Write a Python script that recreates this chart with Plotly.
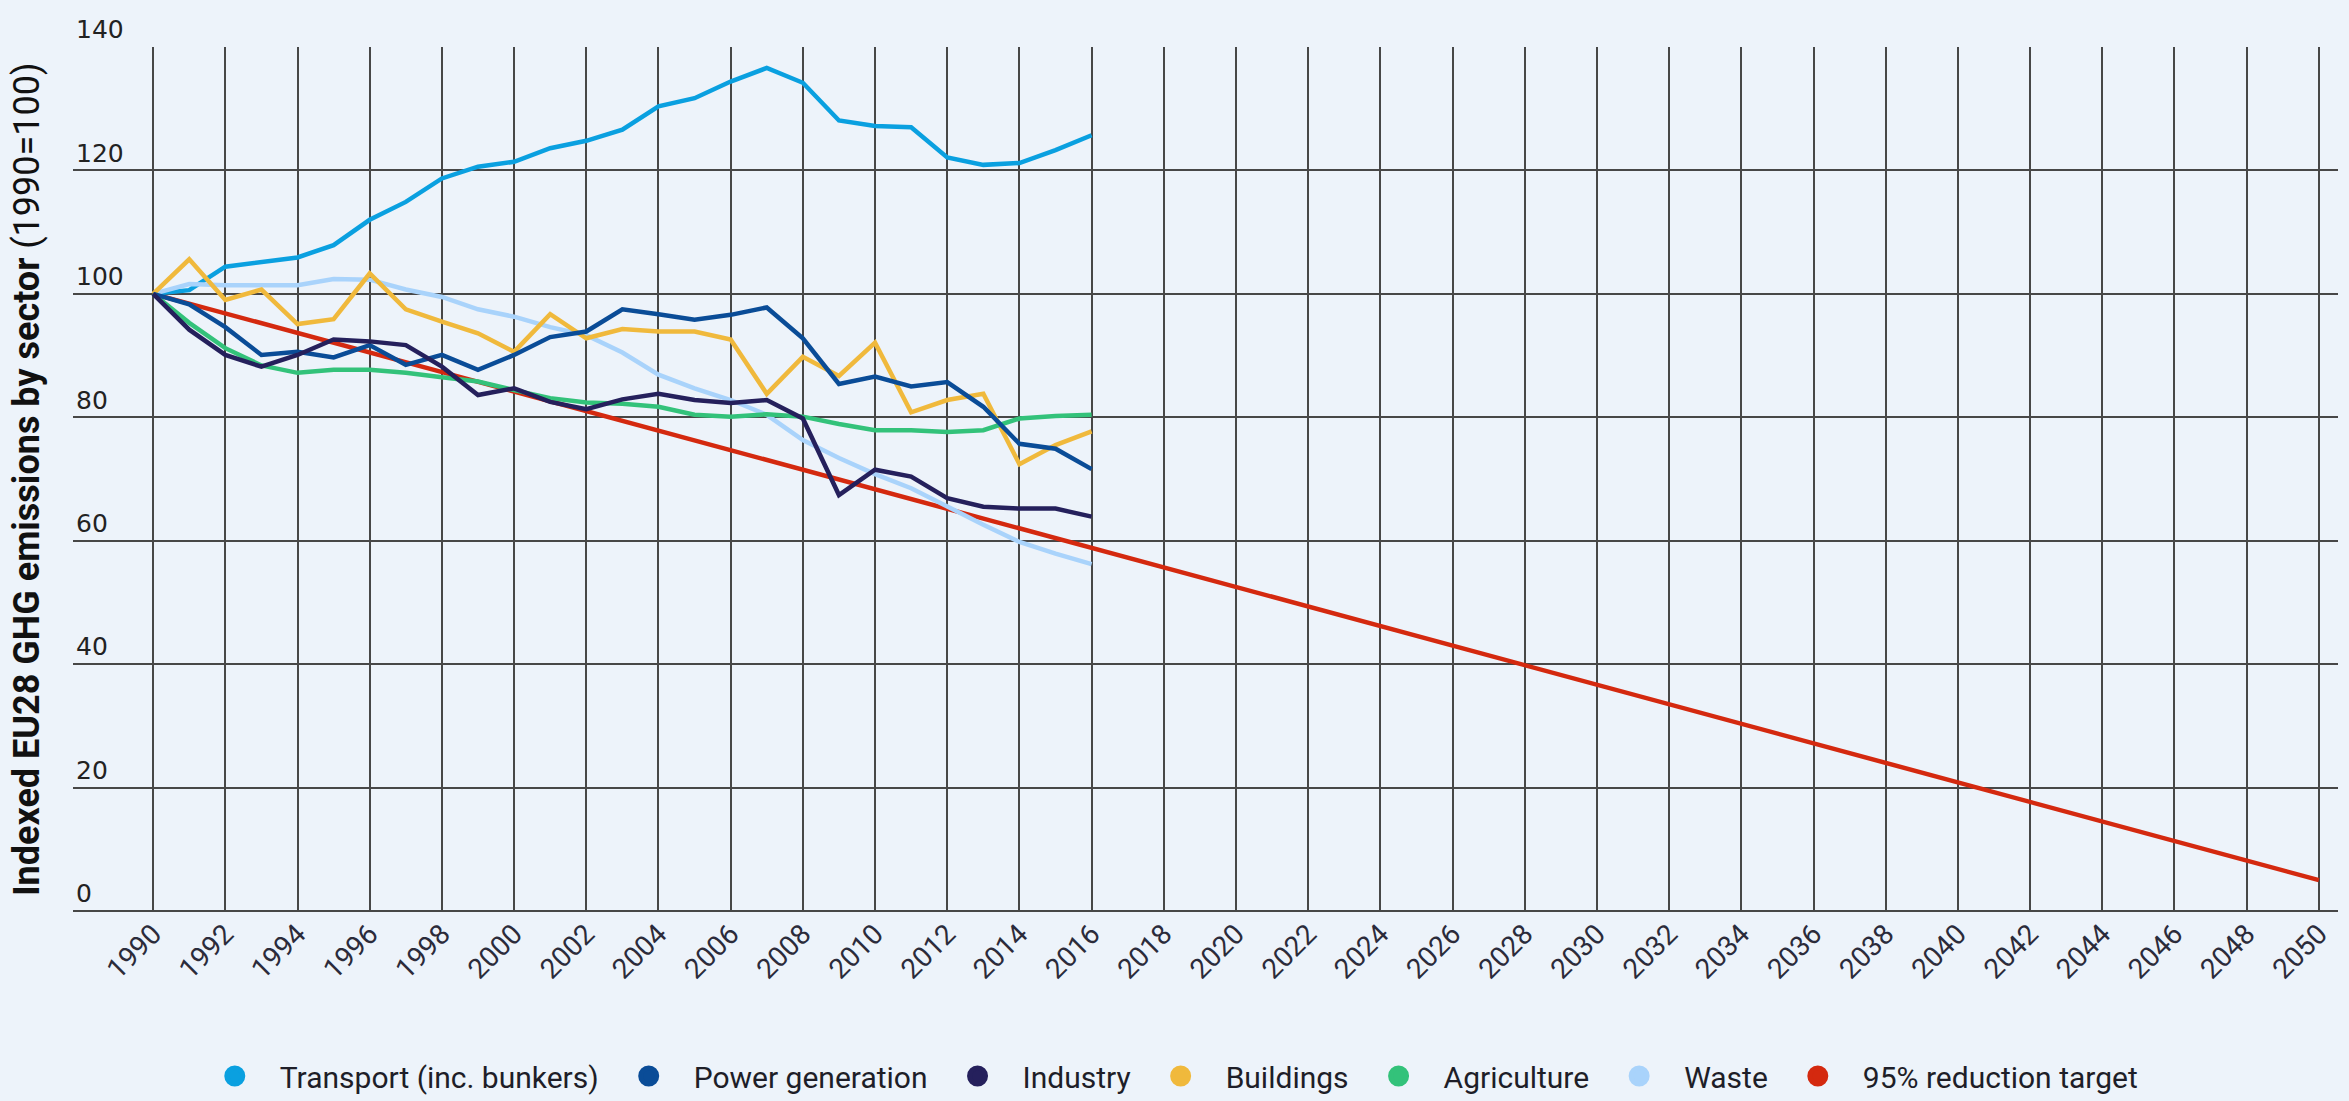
import plotly.graph_objects as go

# ---------------- data ----------------
years = list(range(1990, 2017))
transport = [100, 100.6, 104.4, 105.1, 105.9, 107.9, 112.0, 114.9, 118.7, 120.6, 121.4, 123.6, 124.8,
             126.6, 130.4, 131.7, 134.4, 136.6, 134.2, 128.1, 127.2, 127.0, 122.1, 120.9, 121.2, 123.3, 125.7]
power = [100, 98.3, 94.6, 90.1, 90.6, 89.7, 91.7, 88.5, 90.1, 87.7, 90.1, 93.0, 93.9,
         97.5, 96.7, 95.8, 96.6, 97.8, 92.8, 85.4, 86.6, 85.0, 85.7, 81.7, 75.7, 74.9, 71.6]
industry = [100, 94.2, 90.1, 88.2, 90.1, 92.6, 92.3, 91.7, 88.2, 83.6, 84.7, 82.5, 81.3,
            82.9, 83.8, 82.8, 82.3, 82.8, 79.8, 67.4, 71.5, 70.4, 66.9, 65.5, 65.2, 65.2, 63.9]
buildings = [100, 105.6, 99.0, 100.7, 95.1, 95.9, 103.3, 97.5, 95.5, 93.6, 90.6, 96.7, 92.8,
             94.3, 93.9, 93.9, 92.6, 83.8, 89.8, 86.7, 92.1, 80.8, 82.8, 83.8, 72.4, 75.5, 77.7]
agriculture = [100, 95.3, 91.2, 88.4, 87.2, 87.7, 87.7, 87.2, 86.5, 85.8, 84.4, 83.1, 82.4,
               82.2, 81.7, 80.4, 80.1, 80.5, 80.1, 78.9, 77.9, 77.9, 77.6, 77.9, 79.8, 80.2, 80.4]
waste = [100, 101.6, 101.4, 101.4, 101.4, 102.4, 102.3, 100.7, 99.5, 97.5, 96.3, 94.6, 93.3,
         90.5, 86.9, 84.7, 82.8, 80.4, 76.3, 73.4, 70.8, 68.5, 65.5, 62.6, 59.8, 57.9, 56.2]
target_years = [1990, 2050]
target_values = [100, 5]

series_names = ["Transport (inc. bunkers)", "Power generation", "Industry", "Buildings",
                "Agriculture", "Waste", "95% reduction target"]
x_tick_years = list(range(1990, 2051, 2))
y_ticks = [0, 20, 40, 60, 80, 100, 120, 140]
y_title_bold = "Indexed EU28 GHG emissions by sector"
y_title_rest = "(1990=100)"

# ---------------- style ----------------
colors = ["#0aa0e0", "#0a4c97", "#25205c", "#f0b93c", "#33c27a", "#a9d3fb", "#d4290f"]
BG = "#edf3fa"
GRID = "#474747"

series_x = [years] * 6 + [target_years]
series_y = [transport, power, industry, buildings, agriculture, waste, target_values]

fig = go.Figure()
# target first so sector lines sit on top
order = [6, 0, 5, 3, 4, 1, 2]
for i in order:
    fig.add_trace(go.Scatter(
        x=series_x[i], y=series_y[i], mode="lines", name=series_names[i],
        legendgroup=series_names[i], showlegend=False,
        line=dict(color=colors[i], width=4.5), hoverinfo="x+y+name"))
# legend entries (circles)
for i, name in enumerate(series_names):
    fig.add_trace(go.Scatter(
        x=[None], y=[None], mode="markers", name=name, legendgroup=name,
        marker=dict(symbol="circle", size=16, color=colors[i],
                    line=dict(color=colors[i], width=5)),
        showlegend=True))

W, H = 2349, 1101
ml, mr, mt, mb = 73, 11, 47, 190
pw = W - ml - mr
ph = H - mt - mb

fig.update_layout(
    width=W, height=H,
    margin=dict(l=ml, r=mr, t=mt, b=mb, autoexpand=False),
    paper_bgcolor=BG, plot_bgcolor=BG,
    font=dict(family="Roboto", color="#222"),
    showlegend=True,
    legend=dict(orientation="h", xref="container", yref="container",
                x=0.4965, xanchor="center",
                y=(H - 1076) / H, yanchor="middle",
                font=dict(family="Roboto", size=30, color="#1e1e28"),
                itemwidth=80, bgcolor="rgba(0,0,0,0)", traceorder="normal"),
    annotations=[dict(
        text="<b>" + y_title_bold + "</b> " + y_title_rest, textangle=-90,
        xref="paper", yref="paper",
        x=-(ml - 27) / pw, y=0.5, xanchor="center", yanchor="middle",
        showarrow=False, font=dict(family="Roboto", size=36, color="#111"))],
)

fig.update_xaxes(
    range=[1987.78, 2050.53], tickvals=x_tick_years, ticktext=[str(y) for y in x_tick_years],
    tickangle=-45, showgrid=True, gridcolor=GRID, gridwidth=2, zeroline=False,
    showline=False, ticks="", automargin=False,
    tickfont=dict(family="Roboto", size=28, color="#2b2b3a"))

fig.update_yaxes(
    range=[0, 140], tickvals=y_ticks, ticktext=[str(v) for v in y_ticks],
    ticklabelposition="inside top", ticklabeloverflow="allow",
    showgrid=True, gridcolor=GRID, gridwidth=2, automargin=False,
    zeroline=True, zerolinecolor=GRID, zerolinewidth=2, showline=False, ticks="",
    tickfont=dict(family="DejaVu Sans", size=25, color="#222"))

fig.write_html("out.html", config={"displayModeBar": False},
               post_script="document.body.style.margin='0';document.body.style.overflow='hidden';")
